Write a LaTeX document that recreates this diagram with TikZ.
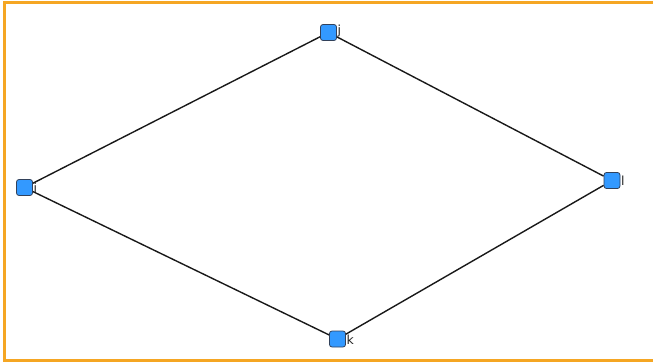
\documentclass[tikz,border=0pt]{standalone}
\usepackage{fontspec}
\setmainfont{DejaVu Sans}
\definecolor{vtxfill}{RGB}{51,153,255}
\definecolor{vtxline}{RGB}{50,65,90}
\definecolor{frameorange}{RGB}{245,166,35}
\begin{document}
\begin{tikzpicture}[
    x=1pt, y=-1pt,
    vtx/.style={
      rectangle, rounded corners=2.5pt, draw=vtxline, line width=0.8pt, fill=vtxfill,
      minimum size=16pt, inner sep=0pt
    },
    lbl/.style={font=\fontsize{12.5}{13}\selectfont, inner sep=0.5pt, text=black!85},
    link/.style={-, line width=1.4pt, black!90}
  ]
    \useasboundingbox (0,0) rectangle (653,363);
    \draw[frameorange, line width=3pt] (4,3) rectangle (670,360.5);

    \node[vtx, label={[lbl, yshift=1pt]right:j}] (j) at (328.5,32.5) {};
    \node[vtx, label={[lbl]right:i}] (i) at (24.5,187.5) {};
    \node[vtx, label={[lbl]right:l}] (l) at (612,180.5) {};
    \node[vtx, label={[lbl, yshift=-1pt]right:k}] (k) at (337.5,339) {};

    \draw[link] (i) -- (j);
    \draw[link] (j) -- (l);
    \draw[link] (l) -- (k);
    \draw[link] (k) -- (i);
  \end{tikzpicture}
\end{document}
